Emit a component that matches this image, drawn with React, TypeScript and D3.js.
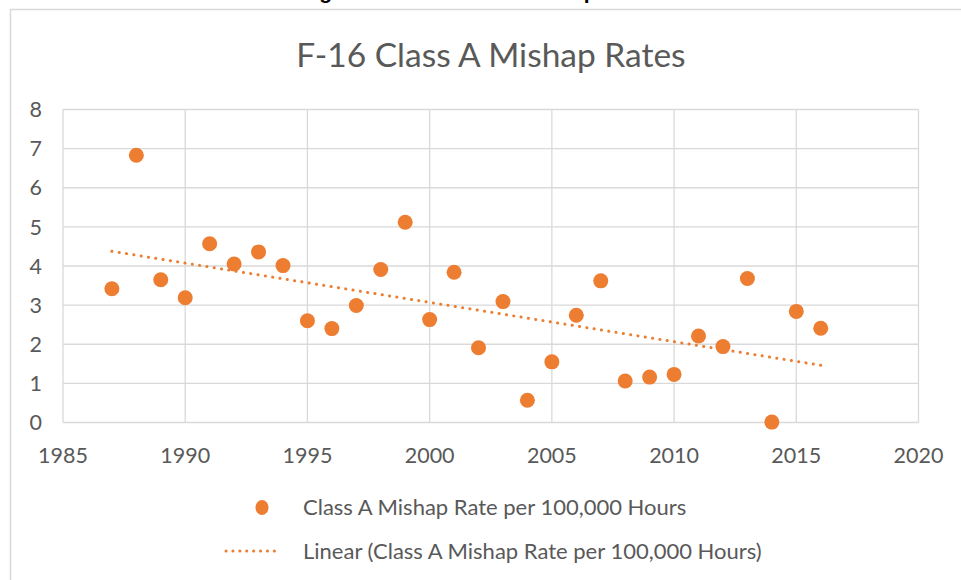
import React, { useEffect, useRef } from "react";
import * as d3 from "d3";

// F-16 Class A mishap rates
const years = [
  1987, 1988, 1989, 1990, 1991, 1992, 1993, 1994, 1995, 1996,
  1997, 1998, 1999, 2000, 2001, 2002, 2003, 2004, 2005, 2006,
  2007, 2008, 2009, 2010, 2011, 2012, 2013, 2014, 2015, 2016,
];
const rates = [
  3.42, 6.83, 3.65, 3.19, 4.57, 4.05, 4.36, 4.01, 2.6, 2.4,
  2.99, 3.91, 5.12, 2.63, 3.84, 1.91, 3.09, 0.57, 1.55, 2.74,
  3.62, 1.06, 1.16, 1.23, 2.21, 1.94, 3.68, 0.01, 2.84, 2.41,
];
const xTicks = [1985, 1990, 1995, 2000, 2005, 2010, 2015, 2020];
const yTicks = [0, 1, 2, 3, 4, 5, 6, 7, 8];

const seriesName = "Class A Mishap Rate per 100,000 Hours";
const chartTitle = "F-16 Class A Mishap Rates";
const caption = "Figure 3. F-16 Class A Mishap Rates";

const W = 961;
const H = 580;
const ORANGE = "#ED7D31";
const GRID = "#D9D9D9";
const TEXT = "#595959";
const FONT = "Lato, 'Open Sans', sans-serif";

export default function App() {
  const ref = useRef<SVGSVGElement>(null);

  useEffect(() => {
    const svg = d3.select(ref.current);
    svg.selectAll("*").remove();

    const margin = { left: 63, top: 109.5, right: 42.5, bottom: 157.5 };

    var x = d3
      .scaleLinear()
      .domain([1985, 2020])
      .range([margin.left, W - margin.right]);
    var y = d3
      .scaleLinear()
      .domain([0, 8])
      .range([H - margin.bottom, margin.top]);

    svg.append("rect").attr("width", W).attr("height", H).attr("fill", "#fff");

    // caption of the page, mostly cut off above the chart frame
    svg
      .append("text")
      .attr("x", 480)
      .attr("y", -1)
      .attr("text-anchor", "middle")
      .attr("font-family", "'Liberation Sans', Arial, sans-serif")
      .attr("font-weight", "bold")
      .attr("font-size", 21)
      .attr("fill", "#000")
      .text(caption);

    // chart frame
    svg
      .append("rect")
      .attr("x", 10.5)
      .attr("y", 9.5)
      .attr("width", W + 20)
      .attr("height", H + 20)
      .attr("fill", "#fff")
      .attr("stroke", GRID)
      .attr("stroke-width", 1.5);

    svg
      .append("text")
      .attr("x", 491)
      .attr("y", 66.5)
      .attr("text-anchor", "middle")
      .attr("font-family", FONT)
      .attr("font-size", 33.5)
      .attr("fill", TEXT)
      .text(chartTitle);

    // gridlines
    svg
      .append("g")
      .selectAll("line")
      .data(yTicks)
      .enter()
      .append("line")
      .attr("x1", x(1985))
      .attr("x2", x(2020))
      .attr("y1", (d) => y(d))
      .attr("y2", (d) => y(d))
      .attr("stroke", GRID)
      .attr("stroke-width", 1.3);
    svg
      .append("g")
      .selectAll("line")
      .data(xTicks)
      .enter()
      .append("line")
      .attr("x1", (d) => x(d))
      .attr("x2", (d) => x(d))
      .attr("y1", y(0))
      .attr("y2", y(8))
      .attr("stroke", GRID)
      .attr("stroke-width", 1.3);

    // tick labels
    svg
      .append("g")
      .selectAll("text")
      .data(yTicks)
      .enter()
      .append("text")
      .attr("x", 42)
      .attr("y", (d) => y(d))
      .attr("dy", "0.36em")
      .attr("text-anchor", "end")
      .attr("font-family", FONT)
      .attr("font-size", 21.5)
      .attr("fill", TEXT)
      .text((d) => d);
    svg
      .append("g")
      .selectAll("text")
      .data(xTicks)
      .enter()
      .append("text")
      .attr("x", (d) => x(d))
      .attr("y", 462.5)
      .attr("text-anchor", "middle")
      .attr("font-family", FONT)
      .attr("font-size", 21.5)
      .attr("fill", TEXT)
      .text((d) => d);

    // linear trendline (least squares)
    const mx = d3.mean(years) as number;
    const my = d3.mean(rates) as number;
    var sxy = 0;
    var sxx = 0;
    years.forEach((yr, i) => {
      sxy += (yr - mx) * (rates[i] - my);
      sxx += (yr - mx) * (yr - mx);
    });
    const slope = sxy / sxx;
    const intercept = my - slope * mx;
    const x0 = years[0];
    const x1 = years[years.length - 1];
    svg
      .append("line")
      .attr("x1", x(x0))
      .attr("y1", y(intercept + slope * x0))
      .attr("x2", x(x1))
      .attr("y2", y(intercept + slope * x1))
      .attr("stroke", ORANGE)
      .attr("stroke-width", 3)
      .attr("stroke-linecap", "round")
      .attr("stroke-dasharray", "0.1 7.3");

    // points
    svg
      .append("g")
      .selectAll("circle")
      .data(years)
      .enter()
      .append("circle")
      .attr("cx", (d) => x(d))
      .attr("cy", (d, i) => y(rates[i]))
      .attr("r", 7.5)
      .attr("fill", ORANGE);

    // legend
    const lg = svg.append("g");
    lg.append("ellipse")
      .attr("cx", 262)
      .attr("cy", 507.5)
      .attr("rx", 6.5)
      .attr("ry", 7.5)
      .attr("fill", ORANGE);
    lg.append("text")
      .attr("x", 303)
      .attr("y", 507.5)
      .attr("dy", "0.36em")
      .attr("font-family", FONT)
      .attr("font-size", 22)
      .attr("fill", TEXT)
      .text(seriesName);
    lg.append("line")
      .attr("x1", 226)
      .attr("x2", 281)
      .attr("y1", 551)
      .attr("y2", 551)
      .attr("stroke", ORANGE)
      .attr("stroke-width", 3)
      .attr("stroke-linecap", "round")
      .attr("stroke-dasharray", "0.1 6.8");
    lg.append("text")
      .attr("x", 303)
      .attr("y", 551)
      .attr("dy", "0.36em")
      .attr("font-family", FONT)
      .attr("font-size", 22)
      .attr("fill", TEXT)
      .text("Linear (" + seriesName + ")");
  }, []);

  return (
    <svg
      ref={ref}
      width={W}
      height={H}
      style={{ position: "absolute", left: 0, top: 0, display: "block" }}
    />
  );
}
